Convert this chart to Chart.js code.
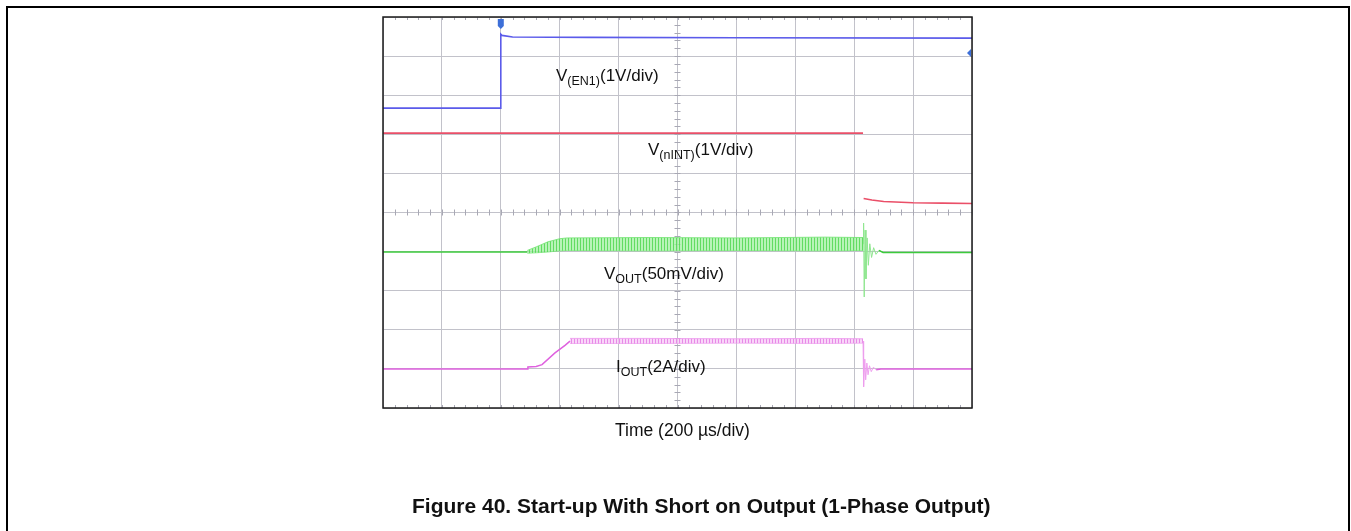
<!DOCTYPE html>
<html>
<head>
<meta charset="utf-8">
<script src="https://cdn.jsdelivr.net/npm/chart.js@4/dist/chart.umd.min.js"></script>
<style>
  html, body { margin: 0; padding: 0; background: #fff; overflow: hidden; }
  body { width: 1351px; height: 531px; position: relative; font-family: "Liberation Sans", Arial, sans-serif; }
  #frame { position: absolute; left: 6px; top: 6px; width: 1344px; height: 600px; border: 2px solid #000; box-sizing: border-box; }
  #scope { position: absolute; left: 0; top: 0; }
  .lbl { position: absolute; font-size: 17px; line-height: 17px; color: #111; white-space: nowrap; }
  .lbl sub { font-size: 12.5px; vertical-align: -4px; line-height: 0; }
  #xlabel { left: 615px; top: 422px; font-size: 17.5px; line-height: 17.5px; }
  #caption { left: 412px; top: 495px; font-weight: bold; font-size: 21px; line-height: 21px; }
</style>
</head>
<body>
<div id="frame"></div>
<canvas id="scope" width="1351" height="531"></canvas>
<div class="lbl" style="left:556px; top:67px;">V<sub>(EN1)</sub>(1V/div)</div>
<div class="lbl" style="left:648px; top:141px;">V<sub>(nINT)</sub>(1V/div)</div>
<div class="lbl" style="left:604px; top:265px;">V<sub>OUT</sub>(50mV/div)</div>
<div class="lbl" style="left:616px; top:358px;">I<sub>OUT</sub>(2A/div)</div>
<div class="lbl" id="xlabel">Time (200 µs/div)</div>
<div class="lbl" id="caption">Figure 40. Start-up With Short on Output (1-Phase Output)</div>

<script>
"use strict";

// time in µs (200 µs/div, 10 div), trace positions in screen divisions (0 = bottom, 10 = top)
var enTime = [0, 400, 400, 404, 440, 700, 1200, 2000];
var enDiv = [7.67, 7.67, 9.56, 9.53, 9.49, 9.48, 9.47, 9.46];

var intTimeOn = [0, 1630];
var intDivOn = [7.03, 7.03];
var intTimeOff = [1632, 1660, 1700, 1800, 1900, 2000];
var intDivOff = [5.36, 5.32, 5.28, 5.25, 5.24, 5.23];

var outTimePre = [0, 490];
var outDivPre = [3.99, 3.99];
var outNoiseTime = [490, 520, 560, 600, 626, 900, 1200, 1500, 1630];
var outNoiseHigh = [4.03, 4.12, 4.25, 4.33, 4.35, 4.36, 4.35, 4.37, 4.36];
var outNoiseLow = [3.96, 3.97, 3.99, 4.02, 4.03, 4.02, 4.03, 4.02, 4.03];
var outRingTime = [1630, 1632, 1634, 1637, 1640, 1644, 1648, 1653, 1659, 1666, 1674, 1684, 1698];
var outRingDiv = [4.2, 4.73, 2.84, 4.55, 3.3, 4.35, 3.65, 4.2, 3.85, 4.1, 3.93, 4.03, 3.98];
var outTimePost = [1684, 1698, 2000];
var outDivPost = [4.03, 3.98, 3.98];

var ioutTimePre = [0, 489, 492, 520, 540, 584, 618, 635];
var ioutDivPre = [1.0, 1.0, 1.05, 1.06, 1.11, 1.41, 1.6, 1.71];
var ioutNoiseTime = [635, 900, 1200, 1500, 1630];
var ioutNoiseHigh = [1.78, 1.78, 1.77, 1.78, 1.77];
var ioutNoiseLow = [1.65, 1.65, 1.66, 1.65, 1.66];
var ioutRingTime = [1630, 1631, 1633, 1636, 1639, 1643, 1647, 1652, 1658, 1665, 1675, 1690];
var ioutRingDiv = [1.71, 1.3, 0.54, 1.25, 0.72, 1.15, 0.85, 1.08, 0.93, 1.04, 0.98, 1.0];
var ioutTimePost = [1675, 1690, 2000];
var ioutDivPost = [0.98, 1.0, 1.0];

var trigTime = 400;
var trigLevel = 9.08;

function _points(xs, ys) {
  var pts = [];
  xs.forEach(function(x, i) {
    pts.push({ x: x, y: ys[i] });
  });
  return pts;
}

function _trace(data, color, width, order, extra) {
  var ds = {
    data: data,
    borderColor: color,
    borderWidth: width,
    pointRadius: 0,
    tension: 0,
    fill: false,
    order: order
  };
  Object.keys(extra || {}).forEach(function(k) { ds[k] = extra[k]; });
  return ds;
}

// vertical hatch so the noise bands look like scope fuzz
function _hatch(base, stripe) {
  var c = document.createElement("canvas");
  c.width = 3;
  c.height = 4;
  var g = c.getContext("2d");
  g.fillStyle = base;
  g.fillRect(0, 0, 3, 4);
  g.fillStyle = stripe;
  g.fillRect(1, 0, 1, 4);
  return g.createPattern(c, "repeat");
}

// minor ticks, frame and channel markers
var scopeDecor = {
  id: "scopeDecor",
  beforeDatasetsDraw: function(chart) {
    var ctx = chart.ctx;
    var a = chart.chartArea;
    var xs = chart.scales.x;
    var ys = chart.scales.y;
    var cx = xs.getPixelForValue(1000);
    var cy = ys.getPixelForValue(5);
    ctx.save();
    ctx.strokeStyle = "#a8a8b4";
    ctx.lineWidth = 1;
    ctx.beginPath();
    for (var t = 0; t <= 2000; t += 40) {
      var px = Math.round(xs.getPixelForValue(t)) + 0.5;
      ctx.moveTo(px, cy - 3); ctx.lineTo(px, cy + 3);
      ctx.moveTo(px, a.top); ctx.lineTo(px, a.top + 3);
      ctx.moveTo(px, a.bottom - 3); ctx.lineTo(px, a.bottom);
    }
    for (var d = 0; d <= 10; d += 0.2) {
      var py = Math.round(ys.getPixelForValue(d)) + 0.5;
      ctx.moveTo(cx - 3, py); ctx.lineTo(cx + 3, py);
    }
    ctx.stroke();
    ctx.restore();
  },
  afterDatasetsDraw: function(chart) {
    var ctx = chart.ctx;
    var a = chart.chartArea;
    var tx = chart.scales.x.getPixelForValue(trigTime);
    var ty = chart.scales.y.getPixelForValue(trigLevel);
    ctx.save();
    ctx.strokeStyle = "#1a1a1a";
    ctx.lineWidth = 1.5;
    ctx.strokeRect(a.left, a.top, a.right - a.left, a.bottom - a.top);
    ctx.fillStyle = "#3d6fd8";
    ctx.beginPath();
    ctx.moveTo(tx - 3, a.top + 2);
    ctx.lineTo(tx + 3, a.top + 2);
    ctx.lineTo(tx + 3, a.top + 9);
    ctx.lineTo(tx, a.top + 12);
    ctx.lineTo(tx - 3, a.top + 9);
    ctx.closePath();
    ctx.fill();
    ctx.beginPath();
    ctx.moveTo(a.right - 5, ty);
    ctx.lineTo(a.right - 1, ty - 4);
    ctx.lineTo(a.right - 1, ty + 4);
    ctx.closePath();
    ctx.fill();
    ctx.restore();
  }
};

function drawScope(canvasId) {
  var grid = { color: "#c2c2ca", lineWidth: 1, drawTicks: false };
  var greenFuzz = _hatch("rgba(160,240,160,0.75)", "rgba(70,212,70,0.75)");
  var pinkFuzz = _hatch("rgba(246,196,246,0.7)", "rgba(226,120,226,0.8)");
  new Chart(document.getElementById(canvasId), {
    type: "line",
    data: {
      datasets: [
        _trace(_points(enTime, enDiv), "#5b5bea", 1.6, 1),
        _trace(_points(intTimeOn, intDivOn), "#ea4f68", 1.6, 1),
        _trace(_points(intTimeOff, intDivOff), "#ea4f68", 1.6, 1),
        _trace(_points(outNoiseTime, outNoiseHigh), "rgba(110,226,110,0.8)", 1, 5,
          { fill: { target: "+1" }, backgroundColor: greenFuzz }),
        _trace(_points(outNoiseTime, outNoiseLow), "rgba(110,226,110,0.8)", 1, 5),
        _trace(_points(outTimePre, outDivPre), "#3ccb3c", 1.5, 2),
        _trace(_points(outRingTime, outRingDiv), "#8fe68f", 1, 3),
        _trace(_points(outTimePost, outDivPost), "#3ccb3c", 1.5, 2),
        _trace(_points(ioutNoiseTime, ioutNoiseHigh), "rgba(236,150,236,0.8)", 1, 5,
          { fill: { target: "+1" }, backgroundColor: pinkFuzz }),
        _trace(_points(ioutNoiseTime, ioutNoiseLow), "rgba(236,150,236,0.8)", 1, 5),
        _trace(_points(ioutTimePre, ioutDivPre), "#df62df", 1.5, 2),
        _trace(_points(ioutRingTime, ioutRingDiv), "#ee9eee", 1, 3),
        _trace(_points(ioutTimePost, ioutDivPost), "#df62df", 1.5, 2)
      ]
    },
    options: {
      responsive: false,
      animation: false,
      events: [],
      layout: { padding: { left: 383, top: 17, right: 379, bottom: 123 } },
      plugins: { legend: { display: false }, tooltip: { enabled: false } },
      scales: {
        x: {
          type: "linear", min: 0, max: 2000,
          ticks: { display: false, stepSize: 200 },
          grid: grid,
          border: { display: false }
        },
        y: {
          type: "linear", min: 0, max: 10,
          ticks: { display: false, stepSize: 1 },
          grid: grid,
          border: { display: false }
        }
      }
    },
    plugins: [scopeDecor]
  });
}

drawScope("scope");
</script>
</body>
</html>
